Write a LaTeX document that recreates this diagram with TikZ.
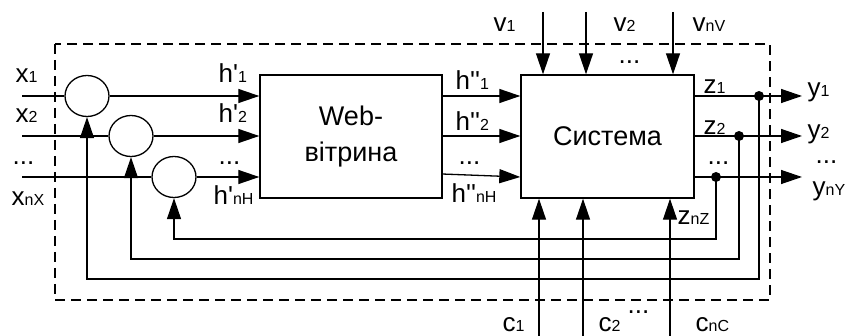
\documentclass[tikz,border=0pt]{standalone}
\usepackage{fontspec}
\setmainfont{Liberation Sans}
\usetikzlibrary{arrows.meta,shapes.geometric}
\newcommand\sbs[1]{{\fontsize{16}{16}\selectfont #1}}
\newcommand\pr{\textquotesingle}
\begin{document}
\begin{tikzpicture}[x=1pt,y=-1pt,line width=1.3pt,
  lbl/.style={inner sep=0pt,anchor=base west,font=\fontsize{26}{26}\selectfont},
  sumnode/.style={draw,ellipse,minimum width=44pt,minimum height=41pt,inner sep=0pt},
  blk/.style={draw,line width=1.4pt,inner sep=0pt,font=\fontsize{27}{36}\selectfont,align=center},
  arr/.style={-{Triangle[length=21pt,width=14pt]}},
  dashbox/.style={dash pattern=on 10pt off 6pt,line width=1.2pt}]
\useasboundingbox (0,0) rectangle (845,336);
% dashed frame
\draw[dashbox] (55,44) rectangle (770,300);
% blocks
\node[sumnode] (s1) at (87,96) {};
\node[sumnode] (s2) at (131,136) {};
\node[sumnode] (s3) at (174,177) {};
\node[blk,minimum width=182pt,minimum height=123pt] (web) at (351,136.5) {Web-\\вітрина};
\node[blk,minimum width=173pt,minimum height=123pt] (sys) at (607.5,136.5) {Система};
% free ends
\coordinate (x1) at (22,96);
\coordinate (x2) at (22,136);
\coordinate (x3) at (22,177);
\coordinate (o1) at (802,96);
\coordinate (o2) at (802,136);
\coordinate (o3) at (802,177);
\coordinate (d1) at (759,96);
\coordinate (d2) at (739,136);
\coordinate (d3) at (716,177);
\coordinate (b1) at (0,279);
\coordinate (b2) at (0,259);
\coordinate (b3) at (0,239);
\coordinate (v1) at (543,12);
\coordinate (v2) at (586,12);
\coordinate (v3) at (673,12);
\coordinate (c1) at (539,336);
\coordinate (c2) at (583,336);
\coordinate (c3) at (670,336);
\coordinate (h3) at (442,174);
% inputs
\draw (x1) -- (s1);
\draw (x2) -- (s2);
\draw (x3) -- (s3);
\draw[arr] (s1) -- (s1 -| web.west);
\draw[arr] (s2) -- (s2 -| web.west);
\draw[arr] (s3) -- (s3 -| web.west);
% web -> system
\draw[arr] (web.east |- s1) -- (sys.west |- s1);
\draw[arr] (web.east |- s2) -- (sys.west |- s2);
\draw[arr] (h3) -- (sys.west |- s3);
% outputs
\draw[arr] (sys.east |- s1) -- (o1);
\draw[arr] (sys.east |- s2) -- (o2);
\draw[arr] (sys.east |- s3) -- (o3);
\fill (d1) circle (5pt);
\fill (d2) circle (5pt);
\fill (d3) circle (5pt);
% feedback
\draw[arr] (d1) -- (d1 |- b1) -| (s1.south);
\draw[arr] (d2) -- (d2 |- b2) -| (s2.south);
\draw[arr] (d3) -- (d3 |- b3) -| (s3.south);
% disturbances
\draw[arr] (v1) -- (v1 |- sys.north);
\draw[arr] (v2) -- (v2 |- sys.north);
\draw[arr] (v3) -- (v3 |- sys.north);
\draw[arr] (c1) -- (c1 |- sys.south);
\draw[arr] (c2) -- (c2 |- sys.south);
\draw[arr] (c3) -- (c3 |- sys.south);
% labels
\node[lbl] (lx1) at (15,83) {x\sbs{1}};
\node[lbl] (lx2) at (15,123) {x\sbs{2}};
\node[lbl] (lx3) at (12,165) {...};
\node[lbl] (lx4) at (11,206) {x\sbs{nX}};
\node[lbl] (lh1) at (218,83) {h\pr\sbs{1}};
\node[lbl] (lh2) at (218,123) {h\pr\sbs{2}};
\node[lbl] (lh3) at (218,165) {...};
\node[lbl] (lh4) at (213,205) {h\pr\sbs{nH}};
\node[lbl] (lg1) at (455,90) {h\pr\pr\sbs{1}};
\node[lbl] (lg2) at (455,131) {h\pr\pr\sbs{2}};
\node[lbl] (lg3) at (458,165) {...};
\node[lbl] (lg4) at (451,203) {h\pr\pr\sbs{nH}};
\node[lbl] (lv1) at (493,32) {v\sbs{1}};
\node[lbl] (lv2) at (613,32) {v\sbs{2}};
\node[lbl] (lv3) at (692,32) {v\sbs{nV}};
\node[lbl] (lv4) at (618,64) {...};
\node[lbl] (lz1) at (703,94) {z\sbs{1}};
\node[lbl] (lz2) at (703,135) {z\sbs{2}};
\node[lbl] (lz3) at (707,165) {...};
\node[lbl] (lz4) at (677,225) {z\sbs{nZ}};
\node[lbl] (ly1) at (807,97) {y\sbs{1}};
\node[lbl] (ly2) at (807,139) {y\sbs{2}};
\node[lbl] (ly3) at (815,164) {...};
\node[lbl] (ly4) at (812,196) {y\sbs{nY}};
\node[lbl] (lc1) at (502,331) {c\sbs{1}};
\node[lbl] (lc2) at (598,331) {c\sbs{2}};
\node[lbl] (lc3) at (695,331) {c\sbs{nC}};
\node[lbl] (lc4) at (627,313) {...};
\end{tikzpicture}
\end{document}
